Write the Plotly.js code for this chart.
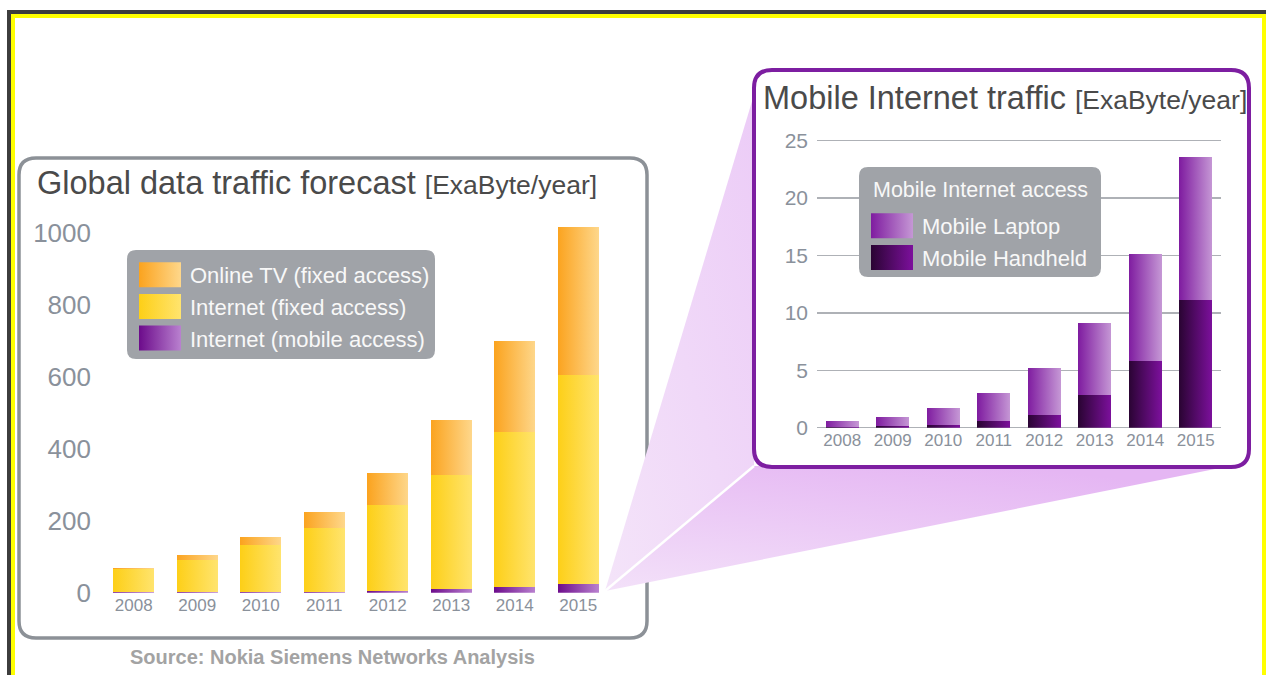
<!DOCTYPE html>
<html>
<head>
<meta charset="utf-8">
<script src="https://cdn.plot.ly/plotly-3.0.1.min.js"></script>
<style>
  html, body { margin: 0; padding: 0; background: #ffffff; }
  #chart { width: 1266px; height: 675px; }
</style>
</head>
<body>
<div id="chart"></div>
<script>
// ---------------- data ----------------
const years = ['2008', '2009', '2010', '2011', '2012', '2013', '2014', '2015'];

// Global data traffic forecast [ExaByte/year]
const onlineTV       = [3, 13, 23, 45, 88, 153, 253, 411];
const internetFixed  = [65, 90, 130, 176, 239, 318, 431, 581];
const internetMobile = [0.6, 0.9, 1.8, 3.1, 5.2, 9.2, 15.1, 23.6];

// Mobile Internet traffic [ExaByte/year]
const mobileHandheld = [0.05, 0.15, 0.25, 0.55, 1.15, 2.85, 5.8, 11.1];
const mobileLaptop   = [0.5, 0.75, 1.5, 2.5, 4.05, 6.3, 9.3, 12.5];

const leftYTicks  = [0, 200, 400, 600, 800, 1000];
const rightYTicks = [0, 5, 10, 15, 20, 25];

// ---------------- helpers ----------------
const W = 1266, H = 675;
const X = px => px / W;
const Y = py => 1 - py / H;
const FONT = 'Liberation Sans, Arial, Helvetica, sans-serif';
const TICK = '#8a919b';

function rrect(x0, y0, x1, y1, r) {
  const p = (x, y) => X(x) + ',' + Y(y);
  return 'M' + p(x0 + r, y0) + ' L' + p(x1 - r, y0) + ' Q' + p(x1, y0) + ' ' + p(x1, y0 + r) +
         ' L' + p(x1, y1 - r) + ' Q' + p(x1, y1) + ' ' + p(x1 - r, y1) +
         ' L' + p(x0 + r, y1) + ' Q' + p(x0, y1) + ' ' + p(x0, y1 - r) +
         ' L' + p(x0, y0 + r) + ' Q' + p(x0, y0) + ' ' + p(x0 + r, y0) + ' Z';
}
function poly(pts) {
  return 'M' + pts.map(q => X(q[0]) + ',' + Y(q[1])).join(' L') + ' Z';
}
function rectShape(x0, y0, x1, y1, color, layer) {
  return {type: 'rect', xref: 'paper', yref: 'paper', x0: X(x0), x1: X(x1), y0: Y(y1), y1: Y(y0),
          fillcolor: color, line: {width: 0}, layer: layer || 'above'};
}

// ---------------- traces ----------------
const data = [
  {type: 'bar', name: 'Internet (mobile access)', x: years, y: internetMobile,
   xaxis: 'x', yaxis: 'y', legend: 'legend', marker: {color: '#9a4fb5', line: {width: 0}}},
  {type: 'bar', name: 'Internet (fixed access)', x: years, y: internetFixed,
   xaxis: 'x', yaxis: 'y', legend: 'legend', marker: {color: '#ffd940', line: {width: 0}}},
  {type: 'bar', name: 'Online TV (fixed access)', x: years, y: onlineTV,
   xaxis: 'x', yaxis: 'y', legend: 'legend', marker: {color: '#fcbc52', line: {width: 0}}},
  {type: 'bar', name: 'Mobile Handheld', x: years, y: mobileHandheld,
   xaxis: 'x2', yaxis: 'y2', legend: 'legend2', marker: {color: '#560a6c', line: {width: 0}}},
  {type: 'bar', name: 'Mobile Laptop', x: years, y: mobileLaptop,
   xaxis: 'x2', yaxis: 'y2', legend: 'legend2', marker: {color: '#a35cbc', line: {width: 0}}}
];

// ---------------- shapes ----------------
const shapes = [
  // 0 left frame
  {type: 'path', xref: 'paper', yref: 'paper', path: rrect(19, 158, 647, 638, 17),
   fillcolor: '#ffffff', line: {color: '#8c9197', width: 3.5}, layer: 'below'},
  // 1 funnel upper
  {type: 'path', xref: 'paper', yref: 'paper', path: poly([[605, 591], [753, 98], [754, 466]]),
   fillcolor: '#efd4f8', line: {width: 0}, layer: 'below'},
  // 2 funnel lower
  {type: 'path', xref: 'paper', yref: 'paper', path: poly([[605, 591], [754, 466], [1245, 463]]),
   fillcolor: '#e9c0f5', line: {width: 0}, layer: 'below'},
  // 3 white fold line
  {type: 'line', xref: 'paper', yref: 'paper', x0: X(605), y0: Y(591), x1: X(754), y1: Y(466),
   line: {color: '#ffffff', width: 2.5}, layer: 'below'},
  // 4 right frame
  {type: 'path', xref: 'paper', yref: 'paper', path: rrect(754, 70, 1249, 467, 18),
   fillcolor: '#ffffff', line: {color: '#7d1ea1', width: 4}, layer: 'below'},
  // 5 left legend box
  {type: 'path', xref: 'paper', yref: 'paper', path: rrect(127, 250, 435, 359, 9),
   fillcolor: '#a0a3a8', line: {width: 0}, layer: 'above'},
  // 6 right legend box
  {type: 'path', xref: 'paper', yref: 'paper', path: rrect(859, 167, 1101, 277, 9),
   fillcolor: '#a0a3a8', line: {width: 0}, layer: 'above'},
  // page border
  rectShape(7, 10, 1266, 14, '#3d3d3d'),
  rectShape(7, 10, 11, 675, '#3d3d3d'),
  rectShape(11, 14, 1266, 18, '#ffff00'),
  rectShape(11, 14, 15, 675, '#ffff00'),
  rectShape(1262, 14, 1266, 675, '#ffff00')
];

// ---------------- annotations ----------------
const annotations = [
  {xref: 'paper', yref: 'paper', x: X(35), y: Y(183), xanchor: 'left', yanchor: 'middle', showarrow: false,
   text: 'Global data traffic forecast <span style="font-size:26.5px">[ExaByte/year]</span>',
   font: {family: FONT, size: 32.5, color: '#4a4a4a'}},
  {xref: 'paper', yref: 'paper', x: X(761), y: Y(98), xanchor: 'left', yanchor: 'middle', showarrow: false,
   text: 'Mobile Internet traffic <span style="font-size:26.5px">[ExaByte/year]</span>',
   font: {family: FONT, size: 32.5, color: '#4a4a4a'}},
  {xref: 'paper', yref: 'paper', x: X(871), y: Y(190), xanchor: 'left', yanchor: 'middle', showarrow: false,
   text: 'Mobile Internet access',
   font: {family: FONT, size: 21.5, color: '#f8f8f8'}},
  {xref: 'paper', yref: 'paper', x: X(332), y: Y(657), xanchor: 'center', yanchor: 'middle', showarrow: false,
   text: '<b>Source: Nokia Siemens Networks Analysis</b>',
   font: {family: FONT, size: 20, color: '#a3a3a3'}}
];

// ---------------- layout ----------------
const layout = {
  width: W, height: H,
  margin: {l: 0, r: 0, t: 0, b: 0, pad: 0},
  paper_bgcolor: 'rgba(0,0,0,0)', plot_bgcolor: 'rgba(0,0,0,0)',
  font: {family: FONT, color: TICK},
  barmode: 'stack', bargap: 0.35,
  xaxis: {domain: [X(102), X(610)], anchor: 'y', type: 'category', range: [-0.5, 7.5],
          showgrid: false, zeroline: false, showline: false, ticks: '',
          tickfont: {size: 17, color: TICK}, fixedrange: true},
  yaxis: {domain: [Y(592.7), Y(214.7)], anchor: 'x', range: [0, 1050], tickvals: leftYTicks,
          showgrid: false, zeroline: false, showline: false, ticks: '', ticklabelstandoff: 10,
          tickfont: {size: 26, color: TICK}, fixedrange: true},
  xaxis2: {domain: [X(817), X(1221)], anchor: 'y2', type: 'category', range: [-0.5, 7.5],
           showgrid: false, zeroline: false, showline: false, ticks: '',
           tickfont: {size: 17, color: TICK}, fixedrange: true},
  yaxis2: {domain: [Y(427.7), Y(137.3)], anchor: 'x2', range: [0, 25.3], tickvals: rightYTicks,
           showgrid: true, gridcolor: '#aeb1b6', gridwidth: 1.5,
           zeroline: true, zerolinecolor: '#aeb1b6', zerolinewidth: 1.5,
           showline: false, ticks: '', ticklabelstandoff: 8,
           tickfont: {size: 21, color: TICK}, fixedrange: true},
  legend: {x: X(130), y: Y(254), xanchor: 'left', yanchor: 'top', bgcolor: 'rgba(0,0,0,0)',
           borderwidth: 0, traceorder: 'reversed', itemwidth: 50, tracegroupgap: 0,
           font: {family: FONT, size: 22, color: '#f8f8f8'}},
  legend2: {x: X(862), y: Y(205), xanchor: 'left', yanchor: 'top', bgcolor: 'rgba(0,0,0,0)',
            borderwidth: 0, traceorder: 'reversed', itemwidth: 50, tracegroupgap: 0,
            font: {family: FONT, size: 22, color: '#f8f8f8'}},
  shapes: shapes,
  annotations: annotations
};

// ---------------- gradients (post-render styling) ----------------
const gradients = {
  'Online TV (fixed access)': ['gTV', '#fba31e', '#fed78b'],
  'Internet (fixed access)':  ['gFix', '#fdcf17', '#ffe46e'],
  'Internet (mobile access)': ['gMob', '#6c0b8b', '#b981cf'],
  'Mobile Laptop':            ['gLap', '#7f1ca0', '#c597d5'],
  'Mobile Handheld':          ['gHand', '#2a0433', '#7c109c']
};

function decorate(gd) {
  const NS = 'http://www.w3.org/2000/svg';
  const svg = gd.querySelector('svg.main-svg');
  let defs = svg.querySelector('defs');
  if (!defs) { defs = document.createElementNS(NS, 'defs'); svg.insertBefore(defs, svg.firstChild); }
  function addGrad(id, stops, x1, y1, x2, y2) {
    const g = document.createElementNS(NS, 'linearGradient');
    g.setAttribute('id', id);
    g.setAttribute('x1', x1); g.setAttribute('y1', y1);
    g.setAttribute('x2', x2); g.setAttribute('y2', y2);
    stops.forEach((c, i) => {
      const s = document.createElementNS(NS, 'stop');
      s.setAttribute('offset', (i / (stops.length - 1)).toString());
      s.setAttribute('stop-color', c);
      g.appendChild(s);
    });
    defs.appendChild(g);
  }
  Object.keys(gradients).forEach(k => {
    const g = gradients[k];
    addGrad(g[0], [g[1], g[2]], 0, 0, 1, 0);
  });
  addGrad('gFunUp', ['#f4e4f9', '#ecccf7'], 0, 1, 1, 0);
  addGrad('gFunLo', ['#f3e1f9', '#e5b6f3'], 0, 1, 0.6, 0);

  gd.querySelectorAll('g.trace.bars').forEach(tr => {
    const cd = tr.__data__;
    const name = cd && cd[0] && cd[0].trace && cd[0].trace.name;
    if (gradients[name]) {
      tr.querySelectorAll('path').forEach(p => { p.style.fill = 'url(#' + gradients[name][0] + ')'; });
    }
  });
  gd.querySelectorAll('g.traces').forEach(tr => {
    const d = tr.__data__;
    const name = d && d[0] && d[0].trace && d[0].trace.name;
    if (gradients[name]) {
      tr.querySelectorAll('.legendpoints path').forEach(p => {
        p.setAttribute('d', 'M-21,-12.5H21V12.5H-21Z');
        p.style.fill = 'url(#' + gradients[name][0] + ')';
        p.style.stroke = 'none';
      });
    }
  });
  const up = gd.querySelector('.shapelayer path[data-index="1"]');
  if (up) up.style.fill = 'url(#gFunUp)';
  const lo = gd.querySelector('.shapelayer path[data-index="2"]');
  if (lo) lo.style.fill = 'url(#gFunLo)';
}

const gd = document.getElementById('chart');
Plotly.newPlot(gd, data, layout, {staticPlot: true, displayModeBar: false}).then(() => decorate(gd));
</script>
</body>
</html>
